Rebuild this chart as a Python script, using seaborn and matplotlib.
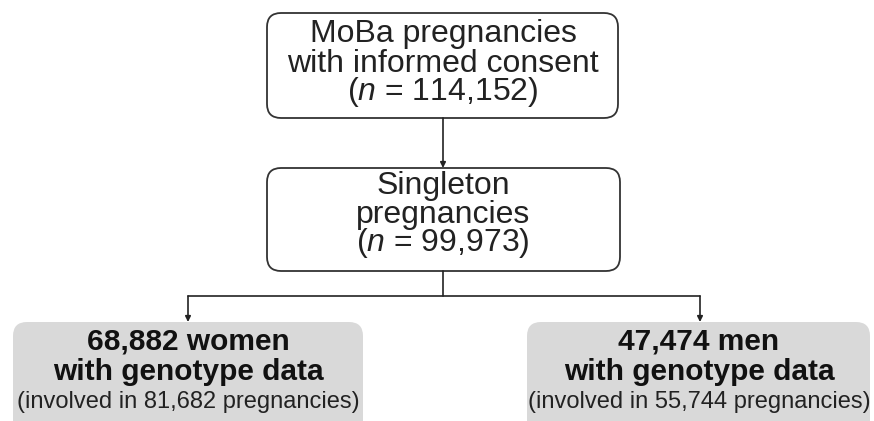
import matplotlib.pyplot as plt
import seaborn as sns
from matplotlib.patches import FancyBboxPatch

# flowchart content
top_lines = ["MoBa pregnancies", "with informed consent"]
top_n = "114,152"
mid_lines = ["Singleton", "pregnancies"]
mid_n = "99,973"
women = "68,882"
women_preg = "81,682"
men = "47,474"
men_preg = "55,744"

sns.set_theme(style="white")
plt.rcParams['font.family'] = ['Liberation Sans', 'DejaVu Sans']
plt.rcParams['mathtext.fontset'] = 'custom'
plt.rcParams['mathtext.it'] = 'Liberation Sans:italic'
plt.rcParams['mathtext.rm'] = 'Liberation Sans'

fig = plt.figure(figsize=(8.74, 4.21), dpi=100)
ax = fig.add_axes([0, 0, 1, 1])
ax.set_xlim(0, 874)
ax.set_ylim(421, 0)
ax.axis("off")

ink = "#222222"


def box(x0, y0, x1, y1, fc="white", ec="#333333", lw=1.3, r=14):
    p = FancyBboxPatch((x0 + r, y0 + r), (x1 - x0) - 2 * r, (y1 - y0) - 2 * r,
                       boxstyle=f"round,pad={r}", fc=fc, ec=ec, lw=lw)
    ax.add_patch(p)


def arrow(x, y0, y1):
    ax.annotate("", xy=(x, y1), xytext=(x, y0),
                arrowprops=dict(arrowstyle="-|>", color=ink, lw=1.2,
                                mutation_scale=8, shrinkA=0, shrinkB=0))


def lines(cx, baselines, texts, **kw):
    for y, t in zip(baselines, texts):
        ax.text(cx, y, t, ha="center", va="baseline", color=ink, **kw)


# top box
box(267, 13, 618, 118)
lines(443, [42, 72, 100], top_lines + [f"($n$ = {top_n})"], fontsize=23)

# middle box
box(267, 168, 620, 271)
lines(443, [194, 223, 251], mid_lines + [f"($n$ = {mid_n})"], fontsize=23)

# connectors
arrow(443, 118, 168)
ax.plot([443, 443], [271, 296], color=ink, lw=1.2)
ax.plot([188, 700], [296, 296], color=ink, lw=1.2)
arrow(188, 296, 322)
arrow(700, 296, 322)

# bottom boxes
box(13, 322, 363, 440, fc="#d9d9d9", ec="none", lw=0)
box(527, 322, 870, 440, fc="#d9d9d9", ec="none", lw=0)

for cx, num, label, preg in [(188, women, "women", women_preg),
                             (699, men, "men", men_preg)]:
    ax.text(cx, 350, f"{num} {label}", ha="center", va="baseline",
            fontsize=21.5, fontweight="bold", color="#111111")
    ax.text(cx, 380, "with genotype data", ha="center", va="baseline",
            fontsize=21.5, fontweight="bold", color="#111111")
    ax.text(cx, 408, f"(involved in {preg} pregnancies)", ha="center",
            va="baseline", fontsize=17, color=ink)

fig.savefig("out.png", dpi=100)
